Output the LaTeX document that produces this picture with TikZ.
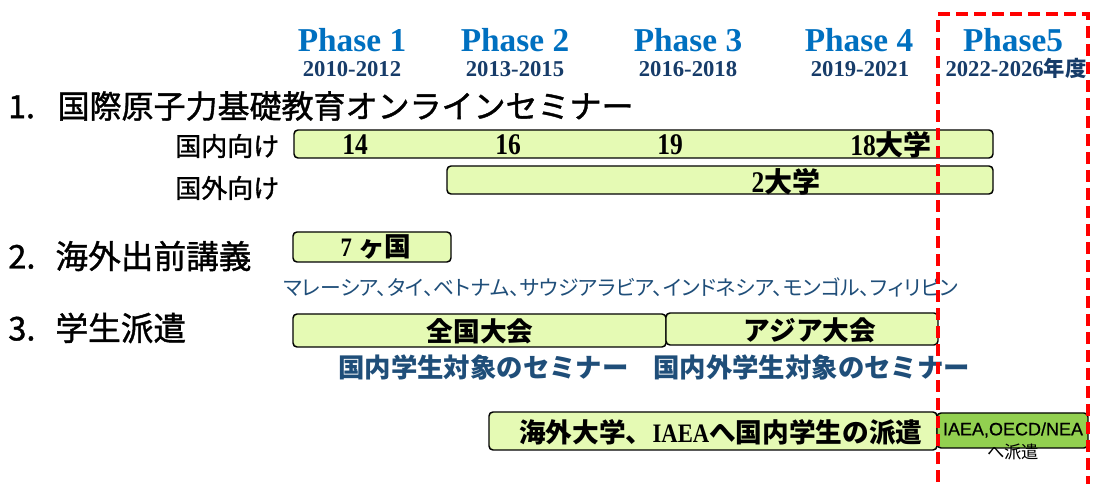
\documentclass[tikz,border=0pt]{standalone}
\usepackage{fontspec}
\setmainfont{Liberation Serif}
\newfontfamily\jp{Noto Sans CJK JP}
\newfontfamily\jpm[FakeBold=1.2]{Noto Sans CJK JP}
\newfontfamily\jpp[RawFeature=+palt]{Noto Sans CJK JP}
\newfontfamily\sercond[FakeStretch=0.85]{Liberation Serif}
\newfontfamily\sanscond[FakeBold=0.6]{Liberation Sans}
\usetikzlibrary{fit}
\definecolor{phaseblue}{RGB}{0,112,192}
\definecolor{yearblue}{RGB}{23,60,105}
\definecolor{semblue}{RGB}{31,78,121}
\definecolor{barfill}{RGB}{229,250,180}
\definecolor{greenfill}{RGB}{146,208,80}
\tikzset{
  phase/.style={text=phaseblue, font=\bfseries\fontsize{25}{28}\selectfont, anchor=base, inner sep=0pt},
  years/.style={text=yearblue, font=\bfseries\fontsize{17}{20}\selectfont, anchor=base, inner sep=0pt},
  head/.style={font=\jpm\fontsize{24.5}{28}\selectfont, anchor=west, inner sep=0pt},
  sub/.style={font=\jpm\fontsize{19.5}{22}\selectfont, anchor=west, inner sep=0pt},
  bar/.style={draw=black, line width=1.1pt, fill=barfill, rounded corners=3pt, inner sep=0pt},
  gbar/.style={bar, fill=greenfill},
  num/.style={font=\sercond\bfseries\fontsize{22.5}{24}\selectfont, inner sep=0pt},
  bartext/.style={font=\jp\bfseries\fontsize{20}{24}\selectfont, inner sep=0pt},
  seminar/.style={text=semblue, font=\jp\bfseries\fontsize{19.8}{24}\selectfont, anchor=west, inner sep=0pt},
  reddash/.style={draw=red, line width=2.3pt, dash pattern=on 9pt off 4.5pt},
}
\begin{document}
\begin{tikzpicture}[x=0.75pt,y=-0.75pt]
\useasboundingbox (0,0) rectangle (1096,484);

% phase headers
\node[phase] (p1) at (352,52) {Phase 1};
\node[phase] (p2) at (515,52) {Phase 2};
\node[phase] (p3) at (688,52) {Phase 3};
\node[phase] (p4) at (859,52) {Phase 4};
\node[phase] (p5) at (1013,52) {Phase5};
\node[years] (y1) at (352,77) {2010-2012};
\node[years] (y2) at (515,77) {2013-2015};
\node[years] (y3) at (688,77) {2016-2018};
\node[years] (y4) at (860,77) {2019-2021};
\node[years] (y5) at (1016,77) {2022-2026{\jp\fontsize{16}{18}\selectfont 年度}};

% section 1
\node[head, font=\jpm\fontsize{24}{28}\selectfont] (h1) at (8,106) {1.\hspace{17pt}国際原子力基礎教育オンラインセミナー};
\node[sub] (s1a) at (175,146) {国内向け};
\node[sub] (s1b) at (175,188) {国外向け};
\node[bar, fit={(294,130)(993,158)}] (b1) {};
\node[bar, fit={(447,166)(993,194)}] (b2) {};
\node[num] (n14) at (355,145) {14};
\node[num] (n16) at (508,145) {16};
\node[num] (n19) at (670,145) {19};
\node[num] (n18) at (891,145) {18{\jp\bfseries\fontsize{21}{24}\selectfont 大学}};
\node[num] (n2) at (786,182) {2{\jp\bfseries\fontsize{21}{24}\selectfont 大学}};

% section 2
\node[head] (h2) at (8,256) {2.\hspace{15pt}海外出前講義};
\node[bar, fit={(293,232)(451,262)}] (b3) {};
\node[bartext] (t3) at (376,247) {{\sercond 7} ヶ国};
\node[text=semblue, font=\jpp\fontsize{15.6}{18}\selectfont, anchor=west, inner sep=0pt] (cty) at (283,287)
  {マレーシア、タイ、ベトナム、サウジアラビア、インドネシア、モンゴル、フィリピン};

% section 3
\node[head] (h3) at (8,328) {3.\hspace{15pt}学生派遣};
\node[bar, fit={(293,314)(666,347)}] (b4) {};
\node[bar, fit={(666,313)(938,345)}] (b5) {};
\node[bartext] (t4) at (480,331) {全国大会};
\node[bartext] (t5) at (810,330) {アジア大会};
\node[seminar] (sem1) at (338,367) {国内学生対象のセミナー};
\node[seminar] (sem2) at (653,367) {国内外学生対象のセミナー};

\node[bar, fit={(489,412)(937,450)}] (b6) {};
\node[bartext, anchor=west] (t6) at (519,432) {海外大学、{\sercond\bfseries IAEA}へ国内学生の派遣};
\node[gbar, fit={(937,413)(1088,448)}] (b7) {};
\node[font=\sanscond\fontsize{13.5}{16}\selectfont, inner sep=0pt] (t7) at (1013,430) {IAEA,OECD/NEA};
\node[font=\jp\fontsize{13}{16}\selectfont, inner sep=0pt] (t7b) at (1013,452) {へ派遣};

% phase 5 frame
\draw[reddash] (938,500) -- (938,14) -- (1088,14) -- (1088,500);
\end{tikzpicture}
\end{document}
